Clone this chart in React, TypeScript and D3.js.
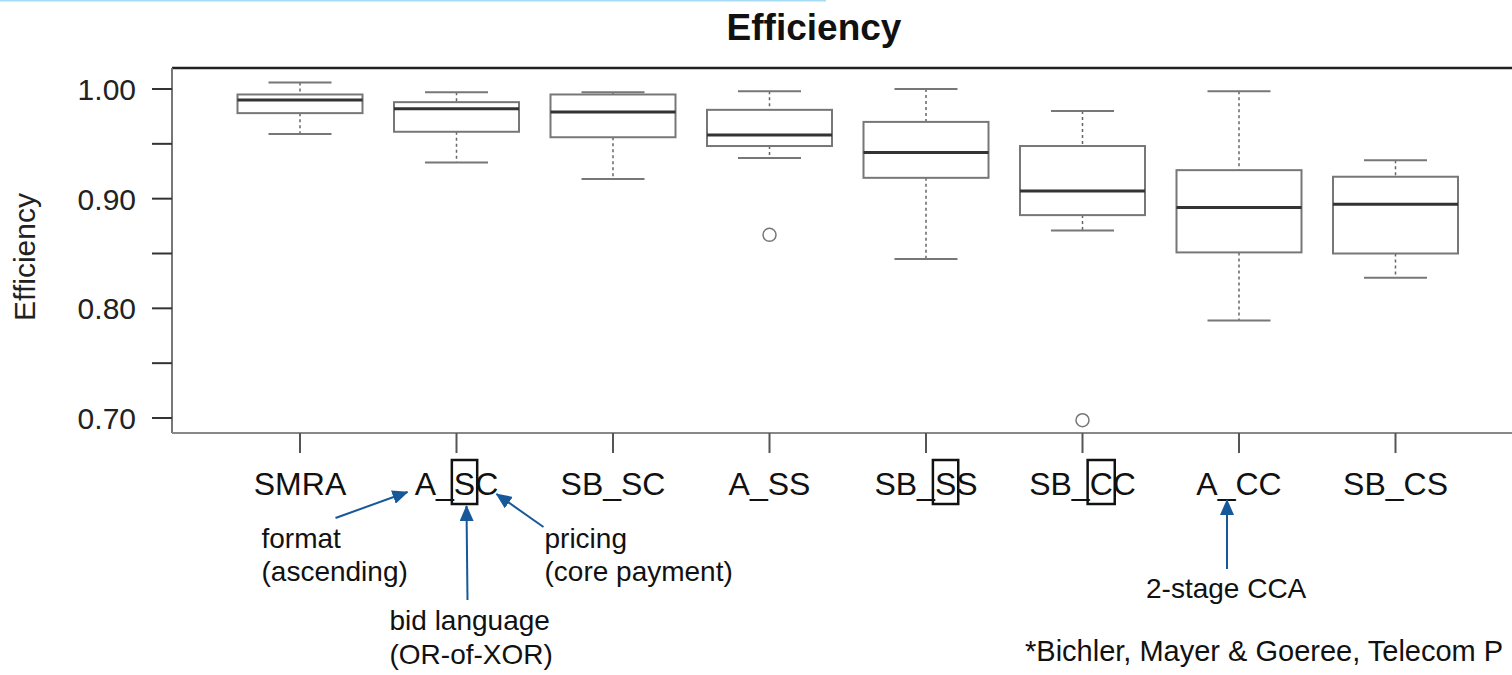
import React, { useEffect, useRef } from 'react';
import * as d3 from 'd3';

// boxplot stats
const categories = ['SMRA', 'A_SC', 'SB_SC', 'A_SS', 'SB_SS', 'SB_CC', 'A_CC', 'SB_CS'];
const whiskerHigh = [1.006, 0.997, 0.997, 0.998, 1.0, 0.98, 0.998, 0.935];
const upperQuartile = [0.995, 0.988, 0.995, 0.981, 0.97, 0.948, 0.926, 0.92];
const medians = [0.99, 0.982, 0.979, 0.958, 0.942, 0.907, 0.892, 0.895];
const lowerQuartile = [0.978, 0.961, 0.956, 0.948, 0.919, 0.885, 0.851, 0.85];
const whiskerLow = [0.959, 0.933, 0.918, 0.937, 0.845, 0.871, 0.789, 0.828];

const outlierCategories = ['A_SS', 'SB_CC'];
const outlierValues = [0.867, 0.698];

const yTicks = [0.7, 0.75, 0.8, 0.85, 0.9, 0.95, 1.0];
const yTickLabels = ['0.70', '', '0.80', '', '0.90', '', '1.00'];

// letters boxed in the category labels: [category, char index]
const boxedLetters: [string, number][] = [['A_SC', 2], ['SB_SS', 3], ['SB_CC', 3]];

const FONT = '"Liberation Sans", Arial, sans-serif';
const BLUE = '#17589a';

const App = () => {
  const svgRef = useRef<SVGSVGElement>(null);

  useEffect(() => {
    const svg = d3.select(svgRef.current);
    svg.selectAll('*').remove();

    const left = 172;
    const top = 68;
    const bottom = 433;

    const x = d3.scalePoint<string>().domain(categories).range([300, 1395.5]);
    const y = d3.scaleLinear().domain([0.7, 1.0]).range([418, 89]);

    const boxW = 125;
    const capW = 63;

    // thin blue line at the very top (slide remnant)
    svg.append('line')
      .attr('x1', 0).attr('x2', 826).attr('y1', 0.5).attr('y2', 0.5)
      .attr('stroke', '#a6dbf7').attr('stroke-width', 2);

    // title
    svg.append('text')
      .attr('x', 814).attr('y', 40)
      .attr('text-anchor', 'middle')
      .attr('font-family', FONT).attr('font-weight', 'bold').attr('font-size', 37)
      .attr('fill', '#111')
      .text('Efficiency');

    // frame
    svg.append('line').attr('x1', left).attr('x2', 1520).attr('y1', top).attr('y2', top)
      .attr('stroke', '#222').attr('stroke-width', 2.5);
    svg.append('line').attr('x1', left).attr('x2', left).attr('y1', top).attr('y2', bottom)
      .attr('stroke', '#777').attr('stroke-width', 2);
    svg.append('line').attr('x1', left).attr('x2', 1520).attr('y1', bottom).attr('y2', bottom)
      .attr('stroke', '#888').attr('stroke-width', 2);

    // y axis
    const yg = svg.append('g');
    yTicks.forEach((t, i) => {
      yg.append('line')
        .attr('x1', left - 20).attr('x2', left)
        .attr('y1', y(t)).attr('y2', y(t))
        .attr('stroke', '#333').attr('stroke-width', 2);
      if (yTickLabels[i]) {
        yg.append('text')
          .attr('x', 136).attr('y', y(t) + 11)
          .attr('text-anchor', 'end')
          .attr('font-family', FONT).attr('font-size', 30)
          .attr('fill', '#222')
          .text(yTickLabels[i]);
      }
    });

    svg.append('text')
      .attr('transform', 'translate(35,257) rotate(-90)')
      .attr('text-anchor', 'middle')
      .attr('font-family', FONT).attr('font-size', 30)
      .attr('fill', '#222')
      .text('Efficiency');

    // x axis ticks and labels
    const labelNodes: Record<string, SVGTextElement> = {};
    categories.forEach((c) => {
      svg.append('line')
        .attr('x1', x(c)).attr('x2', x(c))
        .attr('y1', bottom).attr('y2', bottom + 20)
        .attr('stroke', '#555').attr('stroke-width', 2);
      const t = svg.append('text')
        .attr('x', x(c)).attr('y', 495)
        .attr('text-anchor', 'middle')
        .attr('font-family', FONT).attr('font-size', 32)
        .attr('fill', '#111')
        .text(c);
      labelNodes[c] = t.node() as SVGTextElement;
    });

    // boxes
    const boxes = svg.append('g');
    categories.forEach((c, i) => {
      const cx = x(c) as number;
      const g = boxes.append('g');
      g.append('line')
        .attr('x1', cx).attr('x2', cx)
        .attr('y1', y(whiskerHigh[i])).attr('y2', y(upperQuartile[i]))
        .attr('stroke', '#666').attr('stroke-width', 1.5).attr('stroke-dasharray', '3,3');
      g.append('line')
        .attr('x1', cx).attr('x2', cx)
        .attr('y1', y(lowerQuartile[i])).attr('y2', y(whiskerLow[i]))
        .attr('stroke', '#666').attr('stroke-width', 1.5).attr('stroke-dasharray', '3,3');
      [whiskerHigh[i], whiskerLow[i]].forEach((v) => {
        g.append('line')
          .attr('x1', cx - capW / 2).attr('x2', cx + capW / 2)
          .attr('y1', y(v)).attr('y2', y(v))
          .attr('stroke', '#777').attr('stroke-width', 2);
      });
      g.append('rect')
        .attr('x', cx - boxW / 2).attr('width', boxW)
        .attr('y', y(upperQuartile[i]))
        .attr('height', y(lowerQuartile[i]) - y(upperQuartile[i]))
        .attr('fill', '#fff').attr('stroke', '#777').attr('stroke-width', 2);
      g.append('line')
        .attr('x1', cx - boxW / 2).attr('x2', cx + boxW / 2)
        .attr('y1', y(medians[i])).attr('y2', y(medians[i]))
        .attr('stroke', '#333').attr('stroke-width', 3);
    });

    outlierCategories.forEach((c, i) => {
      svg.append('circle')
        .attr('cx', x(c)).attr('cy', y(outlierValues[i]))
        .attr('r', 6.5)
        .attr('fill', 'none').attr('stroke', '#777').attr('stroke-width', 1.5);
    });

    // boxes around single letters of the labels
    boxedLetters.forEach(([c, idx]) => {
      const node = labelNodes[c];
      if (!node) return;
      const ext = node.getExtentOfChar(idx);
      svg.append('rect')
        .attr('x', ext.x - 2).attr('width', ext.width + 4)
        .attr('y', 460).attr('height', 44)
        .attr('fill', 'none').attr('stroke', '#111').attr('stroke-width', 2.5);
    });

    // annotations
    const defs = svg.append('defs');
    defs.append('marker')
      .attr('id', 'head')
      .attr('markerUnits', 'userSpaceOnUse')
      .attr('viewBox', '0 0 16 14')
      .attr('refX', 15).attr('refY', 7)
      .attr('markerWidth', 16).attr('markerHeight', 14)
      .attr('orient', 'auto')
      .append('path')
      .attr('d', 'M0,0 L16,7 L0,14 Z')
      .attr('fill', BLUE);

    const ax = x('A_SC') as number;
    const cca = x('A_CC') as number;
    const arrows = [
      [ax - 121, 518, ax - 49, 492],
      [ax + 87, 527, ax + 40, 494],
      [ax + 11, 600, ax + 10, 506],
      [cca - 12, 569, cca - 12, 500],
    ];
    arrows.forEach(([x1, y1, x2, y2]) => {
      svg.append('line')
        .attr('x1', x1).attr('y1', y1).attr('x2', x2).attr('y2', y2)
        .attr('stroke', BLUE).attr('stroke-width', 2)
        .attr('marker-end', 'url(#head)');
    });

    const notes: [string, number, number, number][] = [
      ['format', ax - 195, 548, 28],
      ['(ascending)', ax - 195, 581, 28],
      ['pricing', ax + 88, 548, 28],
      ['(core payment)', ax + 88, 581, 28],
      ['bid language', ax - 67, 630, 28],
      ['(OR-of-XOR)', ax - 67, 664, 28],
      ['2-stage CCA', cca - 93, 598, 28],
      ['*Bichler, Mayer & Goeree, Telecom P', 1025, 661, 29],
    ];
    notes.forEach(([s, tx, ty, fs]) => {
      svg.append('text')
        .attr('x', tx).attr('y', ty)
        .attr('font-family', FONT).attr('font-size', fs)
        .attr('fill', '#111')
        .text(s);
    });
  }, []);

  return (
    <svg
      ref={svgRef}
      width={1512}
      height={675}
      style={{ position: 'absolute', left: 0, top: 0, background: '#fff' }}
    />
  );
};

export default App;
